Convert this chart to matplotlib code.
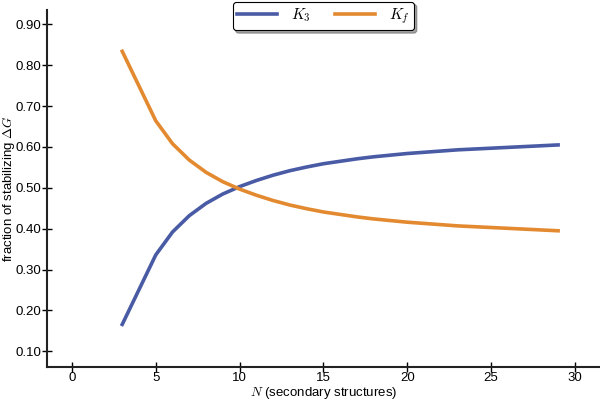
import matplotlib
matplotlib.use('Agg')
import matplotlib.pyplot as plt
from matplotlib.ticker import FormatStrFormatter

n_struct = [3, 5, 6, 7, 8, 9, 10, 11, 12, 13, 14, 15, 16, 17, 18, 19, 20,
            21, 22, 23, 24, 25, 26, 27, 28, 29]
k3 = [0.166, 0.336, 0.392, 0.432, 0.462, 0.485, 0.503, 0.518, 0.531, 0.542,
      0.551, 0.559, 0.565, 0.571, 0.576, 0.580, 0.584, 0.587, 0.590, 0.593,
      0.595, 0.597, 0.599, 0.601, 0.603, 0.605]
kf = [0.834, 0.664, 0.608, 0.568, 0.538, 0.515, 0.497, 0.482, 0.469, 0.458,
      0.449, 0.441, 0.435, 0.429, 0.424, 0.420, 0.416, 0.413, 0.410, 0.407,
      0.405, 0.403, 0.401, 0.399, 0.397, 0.395]
x_ticks = [0, 5, 10, 15, 20, 25, 30]
y_ticks = [0.1, 0.2, 0.3, 0.4, 0.5, 0.6, 0.7, 0.8, 0.9]

plt.rcParams['font.family'] = ['Liberation Sans', 'DejaVu Sans']
plt.rcParams['mathtext.fontset'] = 'cm'

fig = plt.figure(figsize=(6, 4.01), dpi=100, facecolor='white')
ax = fig.add_axes([0.078, 0.085, 0.922, 0.89])

ax.plot(n_struct, k3, color='#4a5ba5', lw=2.6, label='$K_3$')
ax.plot(n_struct, kf, color='#e38a30', lw=2.6, label='$K_f$')

ax.set_xlim(-1.5, 31.5)
ax.set_ylim(0.062, 0.935)
ax.set_xticks(x_ticks)
ax.set_yticks(y_ticks)
ax.yaxis.set_major_formatter(FormatStrFormatter('%.2f'))

for side in ['top', 'right']:
    ax.spines[side].set_visible(False)
for side in ['left', 'bottom']:
    ax.spines[side].set_linewidth(1.5)
    ax.spines[side].set_color('#222222')

ax.tick_params(direction='inout', length=7, width=1, labelsize=9.5, colors='black')
ax.tick_params(axis='x', pad=0.3)
ax.tick_params(axis='y', pad=0.5)

ax.set_xlabel('$N$ (secondary structures)', fontsize=9.5)
ax.set_ylabel(r'fraction of stabilizing $\Delta G$', fontsize=9.5)
ax.xaxis.set_label_coords(0.5, -0.052)
ax.yaxis.set_label_coords(-0.054, 0.5)

leg = ax.legend(loc='upper center', bbox_to_anchor=(0.5, 1.045), ncol=2,
                fontsize=11, frameon=True, fancybox=True, shadow=True,
                handlelength=2.6, columnspacing=1.6, borderpad=0.3,
                handletextpad=0.9)
leg.get_frame().set_edgecolor('black')
leg.get_frame().set_linewidth(0.8)

fig.savefig('out.png', dpi=100)
